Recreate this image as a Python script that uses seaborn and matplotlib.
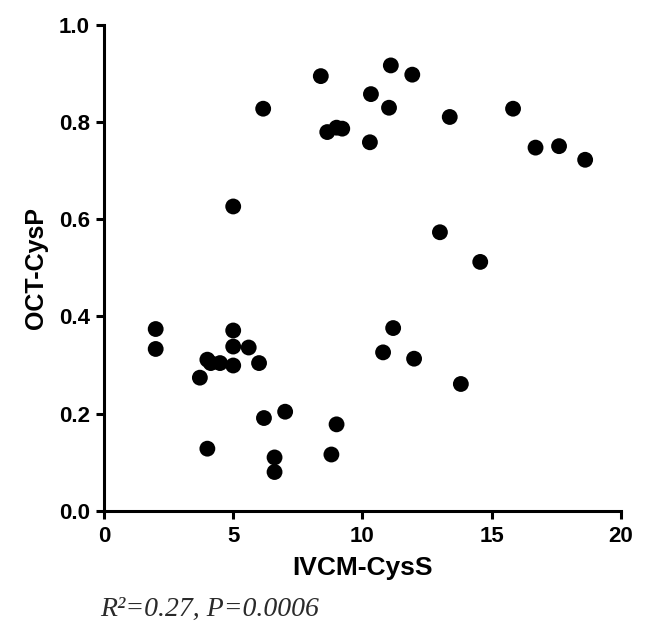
import matplotlib
matplotlib.use('Agg')
import matplotlib.pyplot as plt
import seaborn as sns
import pandas as pd

# values
ivcm_cyss = [2.0, 2.0, 5.0, 5.0, 5.6, 4.0, 4.13, 4.49, 5.0, 6.0,
             3.71, 6.19, 7.01, 9.0, 4.0, 6.6, 6.6, 8.8,
             11.19, 10.8, 12.0, 13.81,
             8.39, 6.16, 8.64, 9.0, 9.22, 5.0,
             11.1, 11.93, 10.33, 11.03, 13.38, 15.83, 10.29, 16.7, 17.61, 18.62,
             13.0, 14.56]
oct_cysp = [0.374, 0.333, 0.371, 0.338, 0.336, 0.311, 0.304, 0.304, 0.299, 0.304,
            0.274, 0.191, 0.204, 0.178, 0.128, 0.110, 0.080, 0.116,
            0.376, 0.326, 0.313, 0.261,
            0.894, 0.827, 0.779, 0.788, 0.786, 0.626,
            0.916, 0.897, 0.857, 0.829, 0.810, 0.827, 0.758, 0.747, 0.750, 0.722,
            0.573, 0.512]
x_ticks = [0, 5, 10, 15, 20]
y_ticks = [0.0, 0.2, 0.4, 0.6, 0.8, 1.0]
stat_text = 'R²=0.27, P=0.0006'

df = pd.DataFrame({'IVCM-CysS': ivcm_cyss, 'OCT-CysP': oct_cysp})

sns.set_style("ticks")
plt.rcParams['font.family'] = ['Liberation Sans', 'DejaVu Sans']

fig = plt.figure(figsize=(6.46, 6.30), dpi=100)
ax = fig.add_axes([0.161, 0.189, 0.800, 0.772])

sns.scatterplot(data=df, x='IVCM-CysS', y='OCT-CysP', ax=ax,
                color='black', s=130, edgecolor='none', legend=False)

ax.set_xlim(0, 20)
ax.set_ylim(0, 1.0)
ax.set_xticks(x_ticks)
ax.set_yticks(y_ticks)
ax.set_yticklabels([f'{v:.1f}' for v in y_ticks])
ax.set_xticklabels([str(v) for v in x_ticks])

# GraphPad-like axes: only left/bottom, thick, ticks outside
for side in ['top', 'right']:
    ax.spines[side].set_visible(False)
for side in ['left', 'bottom']:
    ax.spines[side].set_linewidth(2.2)
    ax.spines[side].set_color('black')
ax.tick_params(axis='both', width=2.2, length=6, direction='out',
               labelsize=16, colors='black')
ax.tick_params(axis='x', pad=5)
ax.tick_params(axis='y', pad=4)
for lab in ax.get_xticklabels() + ax.get_yticklabels():
    lab.set_fontweight('bold')

ax.set_xlabel('IVCM-CysS', fontsize=19, fontweight='bold', labelpad=6, color='black')
ax.set_ylabel('OCT-CysP', fontsize=18, fontweight='bold', labelpad=8, color='black')

fig.text(0.155, 0.022, stat_text, fontsize=20, style='italic', color='#2a2a2a',
         va='baseline', family=['Liberation Serif', 'DejaVu Serif'])

fig.savefig('out.png', dpi=100)
